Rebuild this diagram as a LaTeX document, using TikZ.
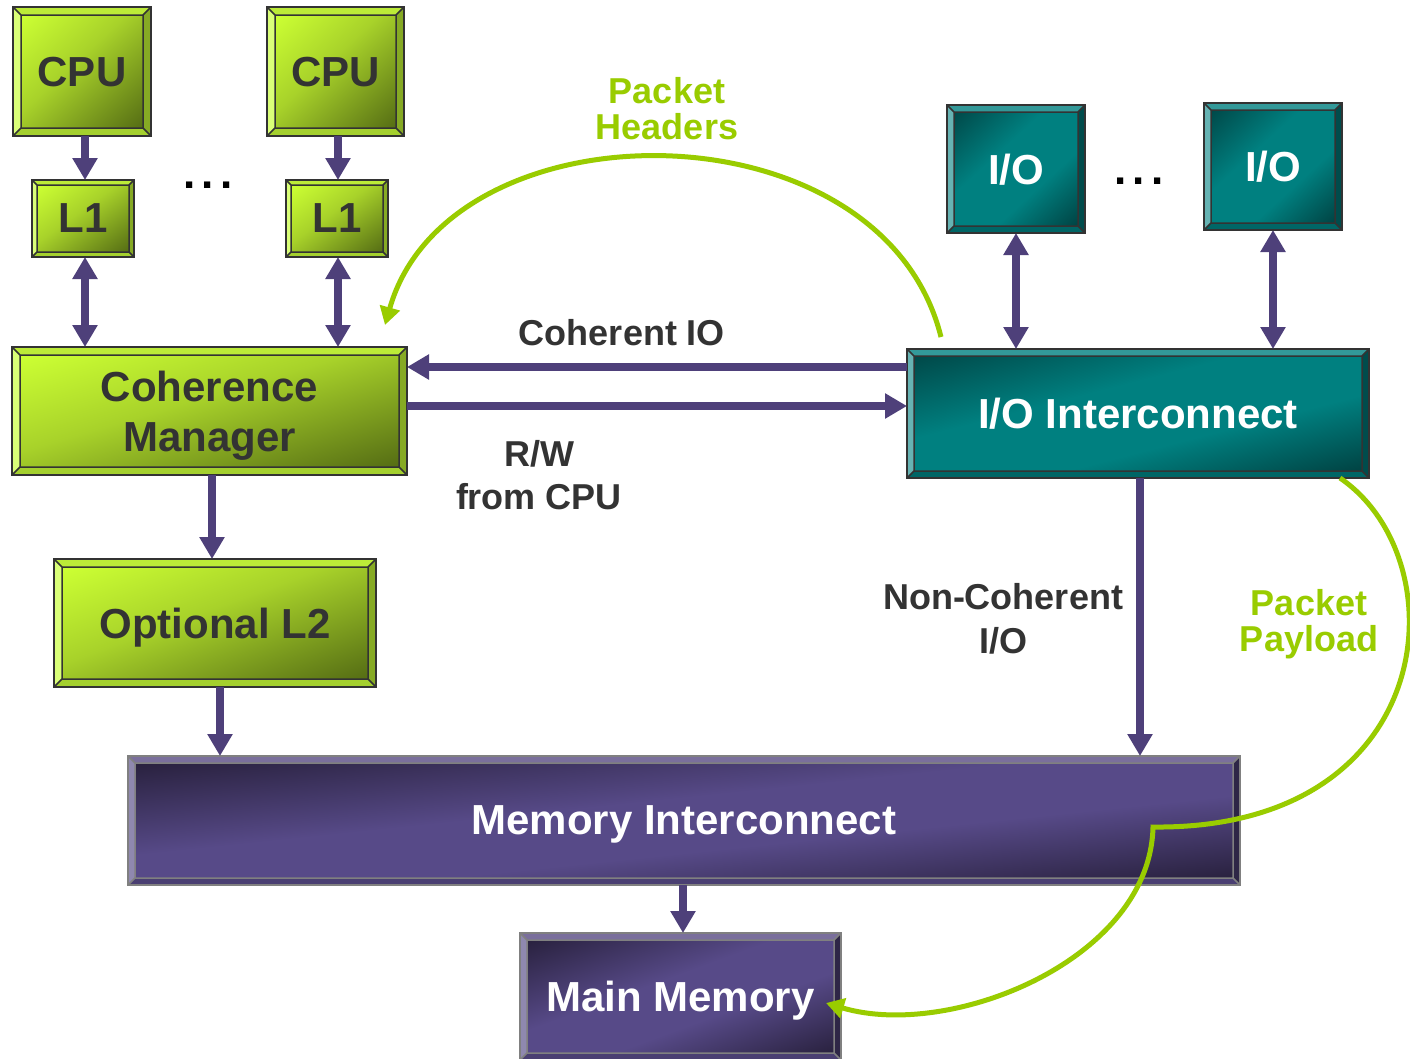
\documentclass[tikz,border=0pt]{standalone}
\usepackage{fontspec}
\setmainfont{Liberation Sans}
\usetikzlibrary{arrows.meta}
\pgfdeclarelayer{back}
\pgfdeclarelayer{bg}
\pgfsetlayers{back,bg,main}

\definecolor{greentop}{HTML}{BCEB38}
\definecolor{greenleft}{HTML}{DAFF78}
\definecolor{greenright}{HTML}{86AA24}
\definecolor{greenbot}{HTML}{A4D02E}
\definecolor{greenline}{HTML}{333333}
\definecolor{gA}{HTML}{CCFF33}
\definecolor{gM}{HTML}{A8D22A}
\definecolor{gB}{HTML}{566E14}
\pgfdeclarehorizontalshading{greensh}{100bp}{color(0bp)=(gA); color(15bp)=(gA); color(45bp)=(gM); color(85bp)=(gB); color(100bp)=(gB)}

\definecolor{tealtop}{HTML}{339999}
\definecolor{tealleft}{HTML}{66B3B3}
\definecolor{tealright}{HTML}{004C4C}
\definecolor{tealbot}{HTML}{006666}
\definecolor{tealline}{HTML}{333333}
\definecolor{tA}{HTML}{004A4A}
\definecolor{tM}{HTML}{008080}
\definecolor{tB}{HTML}{004444}
\pgfdeclarehorizontalshading{tealsh}{100bp}{color(0bp)=(tA); color(15bp)=(tA); color(40bp)=(tM); color(62bp)=(tM); color(85bp)=(tB); color(100bp)=(tB)}

\definecolor{purptop}{HTML}{7A6F9C}
\definecolor{purpleft}{HTML}{8F88AF}
\definecolor{purpright}{HTML}{2E2646}
\definecolor{purpbot}{HTML}{4A3F72}
\definecolor{purpline}{HTML}{808080}
\definecolor{pA}{HTML}{2A2240}
\definecolor{pM}{HTML}{574A88}
\definecolor{pB}{HTML}{2A2240}
\pgfdeclarehorizontalshading{purpsh}{100bp}{color(0bp)=(pA); color(15bp)=(pA); color(43bp)=(pM); color(60bp)=(pM); color(85bp)=(pB); color(100bp)=(pB)}

\definecolor{arrowc}{HTML}{4E407A}
\definecolor{pkt}{HTML}{99CC00}
\definecolor{txt}{HTML}{333333}

\newcommand\boxfont{\fontsize{42}{50}\selectfont\bfseries}
\newcommand\lblfont{\fontsize{36}{43.5}\selectfont\bfseries}
\newcommand\glblfont{\fontsize{36}{36}\selectfont\bfseries}
\newcommand\dotfont{\fontsize{44}{44}\selectfont\bfseries}

% name, scheme, bevel (number), outer width, outer height
\newcommand\bvbox[5]{%
 \begin{pgfonlayer}{bg}
  \path (#1.south west) coordinate (#1-a) (#1.north west) coordinate (#1-b)
        (#1.north east) coordinate (#1-c) (#1.south east) coordinate (#1-d)
        ([shift={(#3pt,#3pt)}]#1.south west) coordinate (#1-ia)
        ([shift={(#3pt,-#3pt)}]#1.north west) coordinate (#1-ib)
        ([shift={(-#3pt,-#3pt)}]#1.north east) coordinate (#1-ic)
        ([shift={(-#3pt,#3pt)}]#1.south east) coordinate (#1-id);
  \fill[#2top] (#1-b) -- (#1-c) -- (#1-ic) -- (#1-ib) -- cycle;
  \fill[#2left] (#1-a) -- (#1-b) -- (#1-ib) -- (#1-ia) -- cycle;
  \fill[#2right] (#1-c) -- (#1-d) -- (#1-id) -- (#1-ic) -- cycle;
  \fill[#2bot] (#1-d) -- (#1-a) -- (#1-ia) -- (#1-id) -- cycle;
  \begin{scope}[transform canvas={shift={(#1.center)}, xscale={(#4-2*#3)/100}, yscale={(#5-2*#3)/100}}]
    \shade[shading=#2sh, shading angle=-45] (-50pt,-50pt) rectangle (50pt,50pt);
  \end{scope}
  \draw[#2line, line width=1.5pt] (#1-ia) rectangle (#1-ic)
     (#1-a) -- (#1-ia) (#1-b) -- (#1-ib) (#1-c) -- (#1-ic) (#1-d) -- (#1-id);
  \draw[#2line, line width=2pt] (#1-a) rectangle (#1-c);
 \end{pgfonlayer}}

\tikzset{
  box/.style={rectangle, inner sep=0pt, outer sep=0pt, align=center, font=\boxfont, text depth=0pt},
  gbox/.style={box, text=txt},
  wbox/.style={box, text=white},
  arr/.style={draw=arrowc, line width=8pt, -{Triangle[width=24pt,length=22pt]}},
  darr/.style={draw=arrowc, line width=8pt, {Triangle[width=24pt,length=22pt]}-{Triangle[width=24pt,length=22pt]}},
  pktline/.style={draw=pkt, line width=5pt, -{Triangle[width=20pt,length=18pt]}},
  lbl/.style={font=\lblfont, text=txt, align=center, inner sep=0pt, text depth=0pt},
  glbl/.style={font=\glblfont, text=pkt, align=center, inner sep=0pt, text depth=0pt},
  dotsty/.style={font=\dotfont, text=black, inner sep=0pt, anchor=base},
}

\begin{document}
\begin{tikzpicture}[x=1pt, y=-1pt]
\useasboundingbox (0,0) rectangle (1410,1058);
\begin{pgfonlayer}{back}
\fill[white] (0,0) rectangle (1410,1058);
\end{pgfonlayer}

% green boxes
\node[gbox, minimum width=138pt, minimum height=129pt] (cpu1) at (82,71.5) {CPU};
\bvbox{cpu1}{green}{8}{138}{129}
\node[gbox, minimum width=137pt, minimum height=129pt] (cpu2) at (335.5,71.5) {CPU};
\bvbox{cpu2}{green}{8}{137}{129}
\node[gbox, minimum width=102pt, minimum height=77pt] (l1a) at (83,218.5) {L1};
\bvbox{l1a}{green}{5}{102}{77}
\node[gbox, minimum width=102pt, minimum height=77pt] (l1b) at (337,218.5) {L1};
\bvbox{l1b}{green}{5}{102}{77}
\node[gbox, minimum width=395pt, minimum height=128pt] (cm) at (209.5,411) {Coherence\\Manager};
\bvbox{cm}{green}{8}{395}{128}
\node[gbox, minimum width=322pt, minimum height=128pt] (l2) at (215,623) {Optional L2};
\bvbox{l2}{green}{8}{322}{128}

% teal boxes
\node[wbox, minimum width=138pt, minimum height=128pt] (io1) at (1016,169) {I/O};
\bvbox{io1}{teal}{7}{138}{128}
\node[wbox, minimum width=138pt, minimum height=127pt] (io2) at (1273,166.5) {I/O};
\bvbox{io2}{teal}{7}{138}{127}
\node[wbox, minimum width=462pt, minimum height=129pt] (ioic) at (1138,413.5) {I/O Interconnect};
\bvbox{ioic}{teal}{7}{462}{129}

% purple boxes
\node[wbox, minimum width=1112pt, minimum height=129pt] (memic) at (684,820.5) {Memory Interconnect};
\bvbox{memic}{purp}{7}{1112}{129}
\node[wbox, minimum width=321pt, minimum height=127pt] (mm) at (680.5,996.5) {Main Memory};
\bvbox{mm}{purp}{7}{321}{127}

% dots
\node[dotsty] (dotl) at (208,188) {.\kern6.5pt.\kern6.5pt.};
\node[dotsty] (dotr) at (1139,184) {.\kern6.5pt.\kern6.5pt.};

% purple connectors
\draw[arr] ([xshift=3pt]cpu1.south) -- ([xshift=3pt]cpu1.south |- l1a.north);
\draw[arr] ([xshift=2.5pt]cpu2.south) -- ([xshift=2.5pt]cpu2.south |- l1b.north);
\draw[darr] ([xshift=2pt]l1a.south) -- ([xshift=2pt]l1a.south |- cm.north);
\draw[darr] ([xshift=1pt]l1b.south) -- ([xshift=1pt]l1b.south |- cm.north);
\draw[arr] ([xshift=2.5pt]cm.south) -- ([xshift=2.5pt]cm.south |- l2.north);
\draw[arr] ([xshift=5pt]l2.south) -- ([xshift=5pt]l2.south |- memic.north);
\draw[arr] ([xshift=-1pt]memic.south) -- ([xshift=-1pt]memic.south |- mm.north);
\draw[arr] ([xshift=2pt]ioic.south) -- ([xshift=2pt]ioic.south |- memic.north);
\draw[darr] (io1.south) -- (io1.south |- ioic.north);
\draw[darr] (io2.south) -- (io2.south |- ioic.north);
\draw[arr] ([yshift=-18pt]ioic.north west) coordinate (ci) -- (ci -| cm.east);
\draw[arr] ([yshift=5pt]cm.east) coordinate (rw) -- (rw -| ioic.west);

% labels
\node[lbl, anchor=base] (lci) at (622,345) {Coherent IO};
\node[lbl] (lrw) at (539,475) {R/W\\from CPU};
\node[lbl] (lnc) at (1003,618.6) {Non-Coherent\\I/O};
\node[glbl] (lph) at (667,108.6) {Packet\\Headers};
\node[glbl] (lpp) at (1309,620.1) {Packet\\Payload};

% green packet paths
\coordinate (hs) at ([shift={(34pt,12pt)}]ioic.north west);
\coordinate (he) at ([shift={(-22pt,22pt)}]cm.north east);
\draw[pktline] (hs) .. controls (882,100) and (449,100) .. (he);

\coordinate (ps) at ([xshift=-29pt]ioic.south east);
\coordinate (pj) at ([shift={(-87pt,-6.5pt)}]memic.east);
\coordinate (pe) at ([shift={(-15pt,-6.5pt)}]mm.east);
\draw[pktline, line join=miter] (ps) .. controls (1460,560) and (1440,830) .. (pj)
   .. controls (1150,960) and (950,1040) .. (pe);
\end{tikzpicture}
\end{document}
